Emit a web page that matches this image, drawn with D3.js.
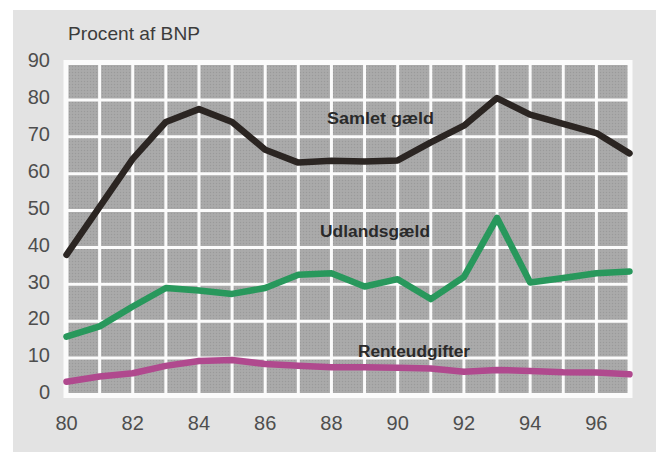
<!DOCTYPE html>
<html><head><meta charset="utf-8">
<script src="https://cdn.jsdelivr.net/npm/d3@7/dist/d3.min.js"></script>
<style>
html,body{margin:0;padding:0;background:#fff;}
svg{display:block;}
text{font-family:"Liberation Sans",Arial,sans-serif;}
</style></head>
<body><svg id="c" width="656" height="452"></svg>
<script>
const years = [80,81,82,83,84,85,86,87,88,89,90,91,92,93,94,95,96,97];
const samletGaeld = [38,51,64,74,77.5,74,66.5,63,63.5,63.3,63.6,68.5,73,80.5,76,73.5,71,65.5];
const udlandsGaeld = [15.8,18.6,24,29,28.3,27.4,29,32.6,33,29.4,31.4,26,32,48,30.5,31.7,33,33.5];
const renteudgifter = [3.6,5,5.9,7.9,9.2,9.5,8.4,7.9,7.5,7.5,7.4,7.2,6.3,6.8,6.5,6.2,6.1,5.6];
const yTicks = [0,10,20,30,40,50,60,70,80,90];
const xTickLabels = ["80","82","84","86","88","90","92","94","96"];
const seriesNames = ["Samlet gæld","Udlandsgæld","Renteudgifter"];
const yTitle = "Procent af BNP";

const svg = d3.select("#c");
const x = d3.scaleLinear().domain([80,97]).range([66.5,629.5]);
const y = d3.scaleLinear().domain([0,90]).range([395,63]);

// panel background
svg.append("rect").attr("x",13).attr("y",10).attr("width",643).attr("height",442).attr("fill","#e3e3e3");

// halftone-ish pattern for cells
const defs = svg.append("defs");
const pat = defs.append("pattern").attr("id","ht").attr("width",3).attr("height",3).attr("patternUnits","userSpaceOnUse");
pat.append("rect").attr("width",3).attr("height",3).attr("fill","#a8a8a8");
pat.append("rect").attr("width",1).attr("height",1).attr("fill","#9a9a9a");
pat.append("rect").attr("x",1.5).attr("y",1.5).attr("width",1).attr("height",1).attr("fill","#b2b2b2");

// white border frame
svg.append("rect").attr("x",x(80)-3).attr("y",y(90)-3)
  .attr("width",x(97)-x(80)+6).attr("height",y(0)-y(90)+6).attr("fill","#fbfbfb");
svg.append("rect").attr("x",x(80)+2).attr("y",y(90)+2)
  .attr("width",x(97)-x(80)-4).attr("height",y(0)-y(90)-4).attr("fill","url(#ht)");

// grid
const g = svg.append("g");
g.selectAll("line.v").data(years.slice(1,-1)).enter().append("line")
  .attr("x1",d=>x(d)).attr("x2",d=>x(d)).attr("y1",y(90)).attr("y2",y(0))
  .attr("stroke","#fbfbfb").attr("stroke-width",3);
g.selectAll("line.h").data(yTicks.slice(1,-1)).enter().append("line")
  .attr("y1",d=>y(d)).attr("y2",d=>y(d)).attr("x1",x(80)).attr("x2",x(97))
  .attr("stroke","#fbfbfb").attr("stroke-width",3);

// axes labels
svg.selectAll("text.yt").data(yTicks).enter().append("text")
  .attr("x",50).attr("y",d=>y(d)-3).attr("dy","0.36em").attr("text-anchor","end")
  .attr("font-size",20).attr("fill","#4e4e4e").text(d=>d);
svg.selectAll("text.xt").data(xTickLabels).enter().append("text")
  .attr("x",d=>x(+d)).attr("y",423).attr("dy","0.36em").attr("text-anchor","middle")
  .attr("font-size",20).attr("fill","#4e4e4e").text(d=>d);
svg.append("text").attr("x",68).attr("y",33).attr("dy","0.36em")
  .attr("font-size",19).attr("fill","#3c3c3c").attr("textLength",132).attr("lengthAdjust","spacingAndGlyphs").text(yTitle);

// lines
const line = d3.line().x((d,i)=>x(years[i])).y(d=>y(d)).curve(d3.curveLinear);
const series = [
  {vals: samletGaeld, color:"#2b2522"},
  {vals: udlandsGaeld, color:"#28985c"},
  {vals: renteudgifter, color:"#b0498e"}
];
series.forEach(s=>{
  svg.append("path").attr("d",line(s.vals)).attr("fill","none")
    .attr("stroke",s.color).attr("stroke-width",6.5)
    .attr("stroke-linejoin","round").attr("stroke-linecap","round");
});

// series labels
const lbl = [
  {t:seriesNames[0], x:327, y:118, w:107},
  {t:seriesNames[1], x:320, y:231, w:110},
  {t:seriesNames[2], x:358, y:351, w:112}
];
lbl.forEach(l=>{
  svg.append("text").attr("x",l.x).attr("y",l.y).attr("dy","0.36em")
    .attr("font-size",16).attr("font-weight","bold").attr("fill","#2a2a2a")
    .attr("textLength",l.w).attr("lengthAdjust","spacingAndGlyphs").text(l.t);
});
</script></body></html>
